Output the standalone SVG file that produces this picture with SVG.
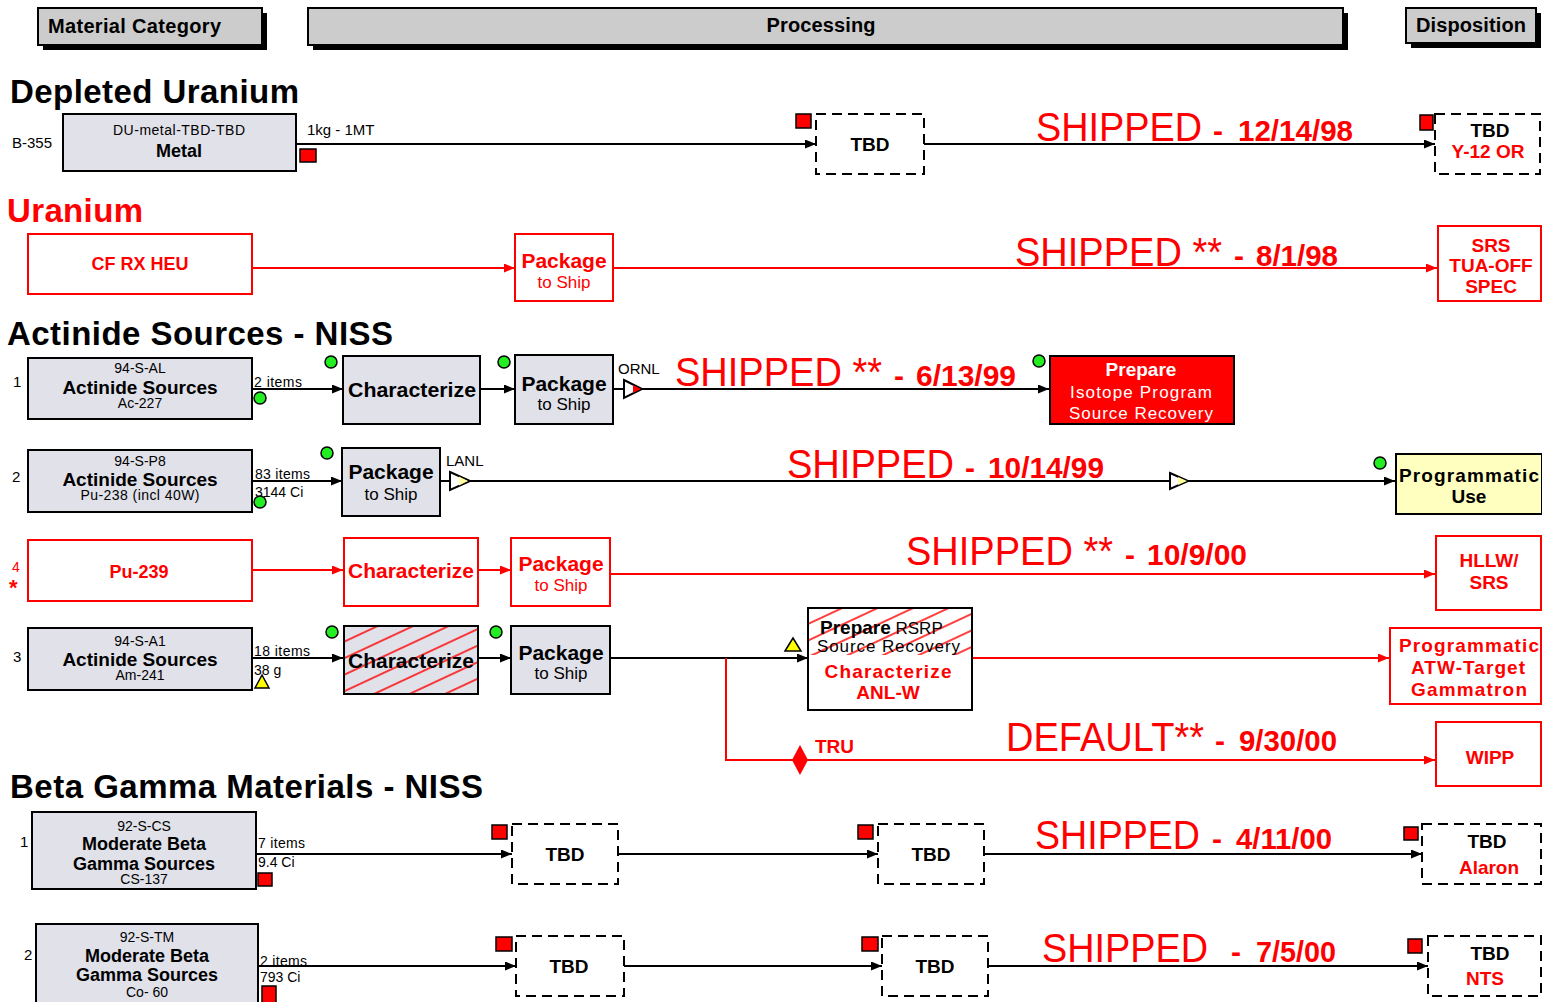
<svg xmlns="http://www.w3.org/2000/svg" width="1542" height="1002" viewBox="0 0 1542 1002">
<style>
text{font-family:"Liberation Sans",Arial,sans-serif;fill:#000}
.b{font-weight:bold}
.m{text-anchor:middle}
text.r{fill:#ff0000}
text.w{fill:#ffffff}
.node{fill:#e1e1ea;stroke:#000;stroke-width:2}
.rnode{fill:#fff;stroke:#ff0000;stroke-width:2}
.dash{fill:#fff;stroke:#000;stroke-width:2;stroke-dasharray:10 6}
.hdr{fill:#cccccc;stroke:#000;stroke-width:2}
.ln{stroke:#000;stroke-width:2;fill:none}
.rl{stroke:#ff0000;stroke-width:2;fill:none}
.gc{fill:#22ee22;stroke:#000;stroke-width:1.5}
.rs{fill:#ff0000;stroke:#000;stroke-width:1.5}
.yt{fill:#ffff00;stroke:#000;stroke-width:1.5}
.sec{font-size:33px;font-weight:bold}
.ship{font-size:40px}
.dt{font-size:30px;font-weight:bold}
.s13{font-size:14px}
.s15{font-size:15px}
.t17{font-size:17px}
.t19{font-size:19px;font-weight:bold}
.t20{font-size:21px;font-weight:bold}
</style>
<defs>
<marker id="ab" markerUnits="userSpaceOnUse" markerWidth="12" markerHeight="10" refX="11" refY="4.5" orient="auto"><path d="M0,0 L11,4.5 L0,9 z" fill="#000"/></marker>
<marker id="ar" markerUnits="userSpaceOnUse" markerWidth="12" markerHeight="10" refX="11" refY="4.5" orient="auto"><path d="M0,0 L11,4.5 L0,9 z" fill="#ff0000"/></marker>
<pattern id="hatch" patternUnits="userSpaceOnUse" width="30" height="15" patternTransform="rotate(-25)"><line x1="0" y1="7" x2="30" y2="7" stroke="#ff0000" stroke-width="1.5"/></pattern>
<clipPath id="c1"><rect x="809" y="609" width="162" height="46"/></clipPath>
</defs>

<!-- headers -->
<g id="hdr-material">
<rect x="43" y="13" width="224" height="37" fill="#000"/>
<rect class="hdr" x="38" y="8" width="224" height="37"/>
<text class="b" x="48" y="33" font-size="20" textLength="173" lengthAdjust="spacing">Material Category</text>
</g>
<g id="hdr-processing">
<rect x="313" y="13" width="1035" height="37" fill="#000"/>
<rect class="hdr" x="308" y="8" width="1035" height="37"/>
<text class="b m" x="821" y="32" font-size="20" textLength="109" lengthAdjust="spacing">Processing</text>
</g>
<g id="hdr-disposition">
<rect x="1411" y="13" width="130" height="35" fill="#000"/>
<rect class="hdr" x="1406" y="8" width="130" height="35"/>
<text class="b" x="1416" y="32" font-size="20" textLength="110" lengthAdjust="spacing">Disposition</text>
</g>

<!-- section titles -->
<text class="sec" x="10" y="103" textLength="289" lengthAdjust="spacing">Depleted Uranium</text>
<text class="sec r" x="7" y="222" textLength="136" lengthAdjust="spacing">Uranium</text>
<text class="sec" x="7" y="345" textLength="386" lengthAdjust="spacing">Actinide Sources - NISS</text>
<text class="sec" x="10" y="798" textLength="473" lengthAdjust="spacing">Beta Gamma Materials - NISS</text>

<!-- connectors -->
<g id="connectors">
<line class="ln" x1="296" y1="144" x2="816" y2="144" marker-end="url(#ab)"/>
<line class="ln" x1="924" y1="144" x2="1435" y2="144" marker-end="url(#ab)"/>
<line class="rl" x1="252" y1="268" x2="515" y2="268" marker-end="url(#ar)"/>
<line class="rl" x1="613" y1="268" x2="1437" y2="268" marker-end="url(#ar)"/>
<line class="ln" x1="252" y1="389" x2="343" y2="389" marker-end="url(#ab)"/>
<line class="ln" x1="480" y1="389" x2="515" y2="389" marker-end="url(#ab)"/>
<line class="ln" x1="613" y1="389" x2="1049" y2="389" marker-end="url(#ab)"/>
<line class="ln" x1="252" y1="481" x2="342" y2="481" marker-end="url(#ab)"/>
<line class="ln" x1="440" y1="481" x2="1395" y2="481" marker-end="url(#ab)"/>
<line class="rl" x1="252" y1="570" x2="343" y2="570" marker-end="url(#ar)"/>
<line class="rl" x1="478" y1="570" x2="511" y2="570" marker-end="url(#ar)"/>
<line class="rl" x1="610" y1="574" x2="1435" y2="574" marker-end="url(#ar)"/>
<line class="ln" x1="252" y1="658" x2="343" y2="658" marker-end="url(#ab)"/>
<line class="ln" x1="478" y1="658" x2="511" y2="658" marker-end="url(#ab)"/>
<line class="ln" x1="610" y1="658" x2="808" y2="658" marker-end="url(#ab)"/>
<path class="rl" d="M726,658 V760 H1435" marker-end="url(#ar)"/>
<line class="rl" x1="972" y1="658" x2="1389" y2="658" marker-end="url(#ar)"/>
<line class="ln" x1="256" y1="854" x2="512" y2="854" marker-end="url(#ab)"/>
<line class="ln" x1="618" y1="854" x2="878" y2="854" marker-end="url(#ab)"/>
<line class="ln" x1="984" y1="854" x2="1422" y2="854" marker-end="url(#ab)"/>
<line class="ln" x1="258" y1="966" x2="516" y2="966" marker-end="url(#ab)"/>
<line class="ln" x1="624" y1="966" x2="882" y2="966" marker-end="url(#ab)"/>
<line class="ln" x1="988" y1="966" x2="1428" y2="966" marker-end="url(#ab)"/>
<!-- valve symbols -->
<polygon points="624,380 642,389 624,398" fill="#fff" stroke="#000" stroke-width="2"/>
<polygon points="633,385 641,389 633,393" fill="#ff0000"/>
<polygon points="450,472 470,481 450,490" fill="#fff" stroke="#000" stroke-width="2"/>
<polygon points="459,476.5 468,481 459,485.5" fill="#ffffa0"/>
<polygon points="1170,473 1188,481 1170,489" fill="#fff" stroke="#000" stroke-width="2"/>
<polygon points="1178,477 1187,481 1178,485" fill="#ffffa0"/>
<polygon points="800,745 808,760 800,775 792,760" fill="#ff0000"/>
<!-- connector labels -->
<text class="s15" x="307" y="135">1kg - 1MT</text>
<text class="s13" x="254" y="387" textLength="48" lengthAdjust="spacing">2 items</text>
<text class="s15" x="618" y="374">ORNL</text>
<text class="s13" x="255" y="479" textLength="55" lengthAdjust="spacing">83 items</text>
<text class="s13" x="255" y="497">3144 Ci</text>
<text class="s15" x="446" y="466">LANL</text>
<text class="s13" x="254" y="656" textLength="56" lengthAdjust="spacing">18 items</text>
<text class="s13" x="254" y="675">38 g</text>
<text class="b r" x="815" y="753" font-size="19">TRU</text>
<text class="s13" x="258" y="848" textLength="47" lengthAdjust="spacing">7 items</text>
<text class="s13" x="258" y="867">9.4 Ci</text>
<text class="s13" x="260" y="966" textLength="47" lengthAdjust="spacing">2 items</text>
<text class="s13" x="260" y="982">793 Ci</text>
<!-- shipped labels -->
<text class="ship r" x="1036" y="141" textLength="166" lengthAdjust="spacingAndGlyphs">SHIPPED</text>
<text class="dt r" x="1213" y="141">-</text>
<text class="dt r" x="1238" y="141" textLength="115" lengthAdjust="spacingAndGlyphs">12/14/98</text>
<text class="ship r" x="1015" y="266" textLength="207" lengthAdjust="spacingAndGlyphs">SHIPPED **</text>
<text class="dt r" x="1234" y="266">-</text>
<text class="dt r" x="1256" y="266" textLength="82" lengthAdjust="spacingAndGlyphs">8/1/98</text>
<text class="ship r" x="675" y="386" textLength="207" lengthAdjust="spacingAndGlyphs">SHIPPED **</text>
<text class="dt r" x="894" y="386">-</text>
<text class="dt r" x="916" y="386" textLength="100" lengthAdjust="spacingAndGlyphs">6/13/99</text>
<text class="ship r" x="787" y="478" textLength="167" lengthAdjust="spacingAndGlyphs">SHIPPED</text>
<text class="dt r" x="965" y="478">-</text>
<text class="dt r" x="988" y="478" textLength="116" lengthAdjust="spacingAndGlyphs">10/14/99</text>
<text class="ship r" x="906" y="565" textLength="207" lengthAdjust="spacingAndGlyphs">SHIPPED **</text>
<text class="dt r" x="1125" y="565">-</text>
<text class="dt r" x="1147" y="565" textLength="100" lengthAdjust="spacingAndGlyphs">10/9/00</text>
<text class="ship r" x="1006" y="751" textLength="198" lengthAdjust="spacingAndGlyphs">DEFAULT**</text>
<text class="dt r" x="1215" y="751">-</text>
<text class="dt r" x="1239" y="751" textLength="98" lengthAdjust="spacingAndGlyphs">9/30/00</text>
<text class="ship r" x="1035" y="849" textLength="165" lengthAdjust="spacingAndGlyphs">SHIPPED</text>
<text class="dt r" x="1212" y="849">-</text>
<text class="dt r" x="1236" y="849" textLength="96" lengthAdjust="spacingAndGlyphs">4/11/00</text>
<text class="ship r" x="1042" y="962" textLength="166" lengthAdjust="spacingAndGlyphs">SHIPPED</text>
<text class="dt r" x="1231" y="962">-</text>
<text class="dt r" x="1256" y="962" textLength="80" lengthAdjust="spacingAndGlyphs">7/5/00</text>
</g>

<!-- Depleted Uranium -->
<g id="du-metal">
<text class="s15" x="12" y="148">B-355</text>
<rect class="node" x="63" y="114" width="233" height="57"/>
<text class="s13 m" x="179" y="135" textLength="132" lengthAdjust="spacing">DU-metal-TBD-TBD</text>
<text class="b m" x="179" y="157" font-size="18">Metal</text>
<rect class="rs" x="300" y="149" width="16" height="13"/>
</g>
<g id="du-tbd">
<rect class="rs" x="796" y="114" width="15" height="14"/>
<rect class="dash" x="816" y="114" width="108" height="60"/>
<text class="t19 m" x="870" y="151">TBD</text>
</g>
<g id="du-disp">
<rect class="rs" x="1420" y="115" width="13" height="15"/>
<rect class="dash" x="1435" y="114" width="105" height="60"/>
<text class="t19 m" x="1490" y="137">TBD</text>
<text class="t19 m r" x="1488" y="158">Y-12 OR</text>
</g>

<!-- Uranium -->
<g id="u-cfrx">
<rect class="rnode" x="28" y="234" width="224" height="60"/>
<text class="b m r" x="140" y="270" font-size="18">CF RX HEU</text>
</g>
<g id="u-package">
<rect class="rnode" x="515" y="234" width="98" height="67"/>
<text class="t20 m r" x="564" y="268">Package</text>
<text class="t17 m r" x="564" y="288">to Ship</text>
</g>
<g id="u-srs">
<rect class="rnode" x="1438" y="226" width="103" height="75"/>
<text class="t19 m r" x="1491" y="252">SRS</text>
<text class="t19 m r" x="1491" y="272">TUA-OFF</text>
<text class="t19 m r" x="1491" y="293">SPEC</text>
</g>

<!-- Actinide 1 -->
<g id="a1-src">
<text class="s15" x="13" y="387">1</text>
<rect class="node" x="28" y="358" width="224" height="61"/>
<text class="s13 m" x="140" y="373">94-S-AL</text>
<text class="b m" x="140" y="394" font-size="19">Actinide Sources</text>
<text class="s13 m" x="140" y="408">Ac-227</text>
<circle class="gc" cx="260" cy="398" r="6"/>
</g>
<g id="a1-char">
<circle class="gc" cx="331" cy="362" r="6"/>
<rect class="node" x="343" y="356" width="137" height="68"/>
<text class="t20 m" x="412" y="397" textLength="128" lengthAdjust="spacingAndGlyphs">Characterize</text>
</g>
<g id="a1-package">
<circle class="gc" cx="504" cy="362" r="6"/>
<rect class="node" x="515" y="355" width="98" height="69"/>
<text class="t20 m" x="564" y="391">Package</text>
<text class="t17 m" x="564" y="410">to Ship</text>
</g>
<g id="a1-prepare">
<circle class="gc" cx="1039" cy="361" r="6"/>
<rect x="1050" y="356" width="184" height="68" fill="#ff0000" stroke="#000" stroke-width="2"/>
<text class="t19 m w" x="1141" y="376">Prepare</text>
<text class="t17 m w" x="1141" y="398" textLength="142" lengthAdjust="spacing">Isotope Program</text>
<text class="t17 m w" x="1141" y="419" textLength="144" lengthAdjust="spacing">Source Recovery</text>
</g>

<!-- Actinide 2 -->
<g id="a2-src">
<text class="s15" x="12" y="482">2</text>
<rect class="node" x="28" y="450" width="224" height="62"/>
<text class="s13 m" x="140" y="466">94-S-P8</text>
<text class="b m" x="140" y="486" font-size="19">Actinide Sources</text>
<text class="s13 m" x="140" y="500" textLength="119" lengthAdjust="spacing">Pu-238 (incl 40W)</text>
<circle class="gc" cx="260" cy="502" r="6"/>
</g>
<g id="a2-package">
<circle class="gc" cx="327" cy="453" r="6"/>
<rect class="node" x="342" y="448" width="98" height="68"/>
<text class="t20 m" x="391" y="479">Package</text>
<text class="t17 m" x="391" y="500">to Ship</text>
</g>
<g id="a2-prog">
<circle class="gc" cx="1380" cy="463" r="6"/>
<rect x="1396" y="454" width="146" height="60" fill="#ffffc0" stroke="#000" stroke-width="2"/>
<text class="t19 m" x="1469" y="482" textLength="140" lengthAdjust="spacing">Programmatic</text>
<text class="t19 m" x="1469" y="503">Use</text>
</g>

<!-- Pu-239 -->
<g id="pu239-src">
<text class="r" x="12" y="572" font-size="14">4</text>
<text class="b r" x="9" y="595" font-size="22">*</text>
<rect class="rnode" x="28" y="540" width="224" height="61"/>
<text class="b m r" x="139" y="578" font-size="18">Pu-239</text>
</g>
<g id="pu239-char">
<rect class="rnode" x="344" y="538" width="134" height="68"/>
<text class="t20 m r" x="411" y="578" textLength="126" lengthAdjust="spacingAndGlyphs">Characterize</text>
</g>
<g id="pu239-package">
<rect class="rnode" x="511" y="538" width="99" height="68"/>
<text class="t20 m r" x="561" y="571">Package</text>
<text class="t17 m r" x="561" y="591">to Ship</text>
</g>
<g id="pu239-hllw">
<rect class="rnode" x="1436" y="536" width="105" height="74"/>
<text class="t19 m r" x="1489" y="567">HLLW/</text>
<text class="t19 m r" x="1489" y="589">SRS</text>
</g>

<!-- Am-241 -->
<g id="a3-src">
<text class="s15" x="13" y="662">3</text>
<rect class="node" x="28" y="628" width="224" height="62"/>
<text class="s13 m" x="140" y="646">94-S-A1</text>
<text class="b m" x="140" y="666" font-size="19">Actinide Sources</text>
<text class="s13 m" x="140" y="680">Am-241</text>
<polygon class="yt" points="255,688 262,675 269,688"/>
</g>
<g id="a3-char">
<circle class="gc" cx="332" cy="632" r="6"/>
<rect class="node" x="344" y="626" width="134" height="68"/>
<rect x="345" y="627" width="132" height="66" fill="url(#hatch)"/>
<text class="t20 m" x="411" y="668" textLength="126" lengthAdjust="spacingAndGlyphs">Characterize</text>
</g>
<g id="a3-package">
<circle class="gc" cx="496" cy="632" r="6"/>
<rect class="node" x="511" y="626" width="99" height="68"/>
<text class="t20 m" x="561" y="660">Package</text>
<text class="t17 m" x="561" y="679">to Ship</text>
</g>
<g id="a3-prepare">
<polygon class="yt" points="785,651 793,638 801,651"/>
<rect x="808" y="608" width="164" height="102" fill="#fff" stroke="#000" stroke-width="2"/>
<rect x="809" y="609" width="162" height="46" fill="url(#hatch)" clip-path="url(#c1)"/>
<text x="820" y="634" font-size="17"><tspan class="b" font-size="19">Prepare</tspan> RSRP</text>
<text x="817" y="652" font-size="17" textLength="143" lengthAdjust="spacing">Source Recovery</text>
<text class="t19 m r" x="888" y="678" textLength="127" lengthAdjust="spacing">Characterize</text>
<text class="t19 m r" x="888" y="699">ANL-W</text>
</g>
<g id="a3-prog">
<rect class="rnode" x="1390" y="628" width="151" height="76"/>
<text class="t19 m r" x="1469" y="652" textLength="140" lengthAdjust="spacing">Programmatic</text>
<text class="t19 m r" x="1468" y="674" textLength="114" lengthAdjust="spacing">ATW-Target</text>
<text class="t19 m r" x="1469" y="696" textLength="116" lengthAdjust="spacing">Gammatron</text>
</g>
<g id="a3-wipp">
<rect class="rnode" x="1436" y="722" width="105" height="64"/>
<text class="t19 m r" x="1490" y="764">WIPP</text>
</g>

<!-- Beta Gamma 1 -->
<g id="bg1-src">
<text class="s15" x="20" y="847">1</text>
<rect class="node" x="32" y="812" width="224" height="77"/>
<text class="s13 m" x="144" y="831">92-S-CS</text>
<text class="b m" x="144" y="850" font-size="18">Moderate Beta</text>
<text class="b m" x="144" y="870" font-size="18">Gamma Sources</text>
<text class="s13 m" x="144" y="884">CS-137</text>
<rect class="rs" x="258" y="873" width="14" height="13"/>
</g>
<g id="bg1-tbd1">
<rect class="rs" x="492" y="825" width="15" height="14"/>
<rect class="dash" x="512" y="824" width="106" height="60"/>
<text class="t19 m" x="565" y="861">TBD</text>
</g>
<g id="bg1-tbd2">
<rect class="rs" x="858" y="825" width="15" height="14"/>
<rect class="dash" x="878" y="824" width="106" height="60"/>
<text class="t19 m" x="931" y="861">TBD</text>
</g>
<g id="bg1-disp">
<rect class="rs" x="1404" y="827" width="14" height="13"/>
<rect class="dash" x="1422" y="824" width="119" height="60"/>
<text class="t19 m" x="1487" y="848">TBD</text>
<text class="t19 m r" x="1489" y="874">Alaron</text>
</g>

<!-- Beta Gamma 2 -->
<g id="bg2-src">
<text class="s15" x="24" y="960">2</text>
<rect class="node" x="36" y="924" width="222" height="82"/>
<text class="s13 m" x="147" y="942">92-S-TM</text>
<text class="b m" x="147" y="962" font-size="18">Moderate Beta</text>
<text class="b m" x="147" y="981" font-size="18">Gamma Sources</text>
<text class="s13 m" x="147" y="997">Co- 60</text>
<rect class="rs" x="262" y="986" width="14" height="17"/>
</g>
<g id="bg2-tbd1">
<rect class="rs" x="496" y="937" width="16" height="14"/>
<rect class="dash" x="516" y="936" width="108" height="60"/>
<text class="t19 m" x="569" y="973">TBD</text>
</g>
<g id="bg2-tbd2">
<rect class="rs" x="862" y="937" width="16" height="14"/>
<rect class="dash" x="882" y="936" width="106" height="60"/>
<text class="t19 m" x="935" y="973">TBD</text>
</g>
<g id="bg2-disp">
<rect class="rs" x="1408" y="939" width="14" height="14"/>
<rect class="dash" x="1428" y="936" width="113" height="60"/>
<text class="t19 m" x="1490" y="960">TBD</text>
<text class="t19 m r" x="1485" y="985">NTS</text>
</g>
</svg>
